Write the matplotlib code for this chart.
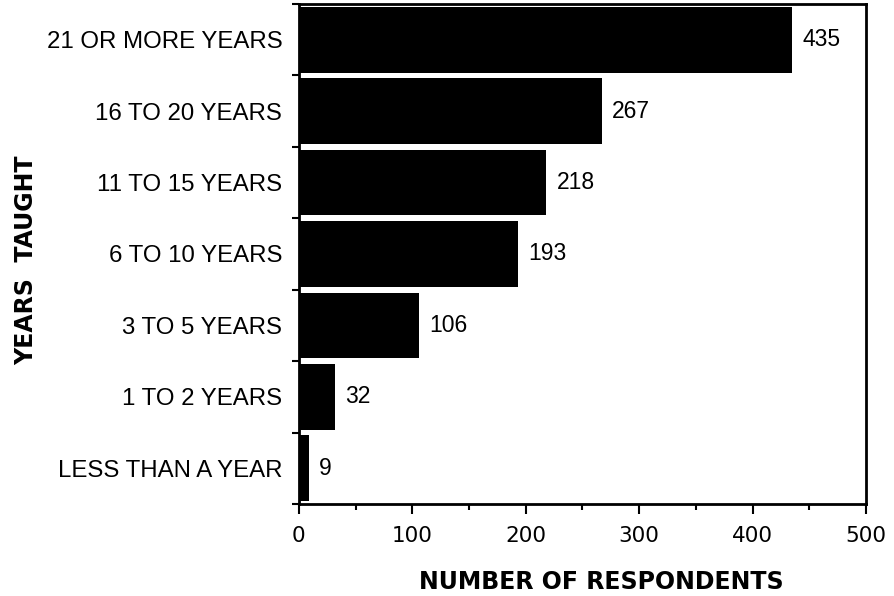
import numpy as np
import matplotlib.pyplot as plt
from matplotlib.ticker import MultipleLocator, FixedLocator

plt.rcParams['font.family'] = ['Liberation Sans', 'DejaVu Sans']

# Years of teaching experience, top to bottom
categories = ['21 OR MORE YEARS', '16 TO 20 YEARS', '11 TO 15 YEARS',
              '6 TO 10 YEARS', '3 TO 5 YEARS', '1 TO 2 YEARS',
              'LESS THAN A YEAR']
respondents = [435, 267, 218, 193, 106, 32, 9]

fig = plt.figure(figsize=(8.95, 5.96), dpi=100)
ax = fig.add_axes([0.334, 0.1544, 0.6336, 0.8389])

y = np.arange(len(categories))[::-1]
bars = ax.barh(y, respondents, height=0.92, color='black')

for bar, val in zip(bars, respondents):
    ax.text(bar.get_width() + 9, bar.get_y() + bar.get_height() / 2, str(val),
            ha='left', va='center', fontsize=16.5)

ax.set_xlim(0, 500)
ax.set_ylim(-0.5, len(categories) - 0.5)

ax.set_yticks(y)
ax.set_yticklabels(categories, fontsize=17.3)
ax.yaxis.set_minor_locator(FixedLocator(np.arange(-0.5, len(categories), 1.0)))
ax.tick_params(axis='y', which='major', length=0, pad=12)
ax.tick_params(axis='y', which='minor', length=5, width=1.5, direction='out')

ax.xaxis.set_major_locator(MultipleLocator(100))
ax.xaxis.set_minor_locator(MultipleLocator(50))
ax.tick_params(axis='x', which='major', length=7, width=1.5, labelsize=15.5, pad=9)
ax.tick_params(axis='x', which='minor', length=4, width=1.5)
for label in ax.get_xticklabels():
    label.set_fontfamily('DejaVu Sans')

for spine in ax.spines.values():
    spine.set_linewidth(2)

ax.set_xlabel('NUMBER OF RESPONDENTS', fontsize=17, fontweight='bold',
              fontfamily='DejaVu Sans')
ax.xaxis.set_label_coords(0.534, -0.132)
ax.set_ylabel('YEARS  TAUGHT', fontsize=17, fontweight='bold',
              fontfamily='DejaVu Sans')
ax.yaxis.set_label_coords(-0.46, 0.488)

plt.savefig('out.png', dpi=100)
